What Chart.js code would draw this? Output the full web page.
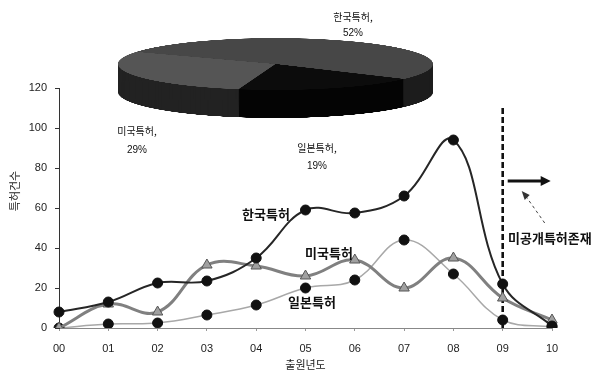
<!DOCTYPE html>
<html>
<head>
<meta charset="utf-8">
<script src="https://cdn.jsdelivr.net/npm/chart.js@4/dist/chart.umd.min.js"></script>
<style>
  html, body { margin: 0; padding: 0; background: #fff; }
  #wrap { position: relative; width: 598px; height: 374px; overflow: hidden; }
  #main { position: absolute; left: 0; top: 0; width: 598px; height: 374px; }
  /* square pie squashed vertically into a tilted disc */
  #pieBox { position: absolute; left: 118px; top: 38px; width: 315px; height: 485px;
            transform-origin: 0 0; transform: scaleY(0.16508); }
</style>
</head>
<body>
<div id="wrap">
  <div id="main"><canvas id="lineChart"></canvas></div>
  <div id="pieBox"><canvas id="pieChart"></canvas></div>
</div>
<script>
// 출원년도 (application year)
const years = ['00', '01', '02', '03', '04', '05', '06', '07', '08', '09', '10'];

// 특허건수 per year
const korea = [8, 13, 22.5, 23.5, 35, 59, 57.5, 66, 94, 22, 1];
const usa   = [0, 12, 8, 31.5, 31, 26, 34, 20, 35, 15, 4];
const japan = [0, 2, 2.5, 6.5, 11.5, 20, 24, 44, 27, 4, 0.5];

const seriesNames = ['한국특허', '미국특허', '일본특허'];

// share of total filings
const pieNames  = ['한국특허', '일본특허', '미국특허'];
const pieShares = [52, 19, 29];

const yMin = 0, yMax = 120, yStep = 20;
const unpublishedYear = '09';
const unpublishedNote = '미공개특허존재';

const tickFont = { family: 'Liberation Sans, Arial, sans-serif', size: 11 };
const krFont = 'Noto Sans CJK KR, sans-serif';

const notes = {
  id: 'notes',
  beforeDatasetsDraw(chart) {
    const { ctx, scales: { x, y } } = chart;
    const xi = x.getPixelForValue(years.indexOf(unpublishedYear));
    ctx.save();
    ctx.strokeStyle = '#111';
    ctx.lineWidth = 2.6;
    ctx.setLineDash([6, 3]);
    ctx.beginPath();
    ctx.moveTo(xi, y.getPixelForValue(110));
    ctx.lineTo(xi, y.getPixelForValue(0));
    ctx.stroke();
    ctx.restore();
  },
  afterDraw(chart) {
    const { ctx, scales: { x, y } } = chart;
    const xi = x.getPixelForValue(years.indexOf(unpublishedYear));
    ctx.save();
    // arrow pointing right from the cut-off line
    const ay = y.getPixelForValue(73.5);
    ctx.strokeStyle = '#111';
    ctx.fillStyle = '#111';
    ctx.lineWidth = 3;
    ctx.beginPath();
    ctx.moveTo(xi + 5, ay);
    ctx.lineTo(xi + 40, ay);
    ctx.stroke();
    ctx.beginPath();
    ctx.moveTo(xi + 48, ay);
    ctx.lineTo(xi + 38, ay - 5);
    ctx.lineTo(xi + 38, ay + 5);
    ctx.closePath();
    ctx.fill();
    // thin dashed pointer from the note to the arrow
    const px0 = xi + 42, py0 = y.getPixelForValue(52.5);
    const px1 = xi + 19, py1 = y.getPixelForValue(68.5);
    ctx.lineWidth = 1;
    ctx.setLineDash([3, 3]);
    ctx.strokeStyle = '#444';
    ctx.beginPath();
    ctx.moveTo(px0, py0);
    ctx.lineTo(px1 + 4, py1 + 5);
    ctx.stroke();
    ctx.setLineDash([]);
    ctx.fillStyle = '#333';
    ctx.beginPath();
    ctx.moveTo(px1, py1);
    ctx.lineTo(px1 + 8, py1 + 4);
    ctx.lineTo(px1 + 3, py1 + 9);
    ctx.closePath();
    ctx.fill();

    // series names next to their lines
    ctx.fillStyle = '#111';
    ctx.textBaseline = 'middle';
    ctx.textAlign = 'left';
    ctx.font = 'bold 13px ' + krFont;
    ctx.fillText(seriesNames[0], 242, 214);
    ctx.fillText(seriesNames[1], 305, 253);
    ctx.fillText(seriesNames[2], 288, 302);
    ctx.fillText(unpublishedNote, 508, 238);

    // pie slice labels
    ctx.textAlign = 'center';
    const pieText = [
      [pieNames[0], pieShares[0], 353, 17, 33],
      [pieNames[2], pieShares[2], 137, 131, 150],
      [pieNames[1], pieShares[1], 317, 148, 166]
    ];
    pieText.forEach(([n, v, cx, y1, y2]) => {
      ctx.font = '10px ' + krFont;
      ctx.fillText(n + ',', cx, y1);
      ctx.font = '10px Liberation Sans, Arial, sans-serif';
      ctx.fillText(v + '%', cx, y2);
    });

    // y axis title
    ctx.font = '11px ' + krFont;
    ctx.fillStyle = '#222';
    ctx.translate(15, 191);
    ctx.rotate(-Math.PI / 2);
    ctx.textAlign = 'center';
    ctx.fillText('특허건수', 0, 0);
    ctx.restore();
  }
};

new Chart(document.getElementById('lineChart'), {
  type: 'line',
  data: {
    labels: years,
    datasets: [
      {
        label: seriesNames[0], data: korea,
        borderColor: '#262626', borderWidth: 2, tension: 0.4,
        pointStyle: 'circle', pointRadius: 5, pointBackgroundColor: '#111',
        pointBorderColor: '#111', pointBorderWidth: 1
      },
      {
        label: seriesNames[1], data: usa,
        borderColor: '#808080', borderWidth: 3, tension: 0.4,
        pointStyle: 'triangle', pointRadius: 6, pointBackgroundColor: '#a0a0a0',
        pointBorderColor: '#555', pointBorderWidth: 1
      },
      {
        label: seriesNames[2], data: japan,
        borderColor: '#a8a8a8', borderWidth: 1.5, tension: 0.4,
        pointStyle: 'circle', pointRadius: 5, pointBackgroundColor: '#111',
        pointBorderColor: '#111', pointBorderWidth: 1
      }
    ]
  },
  options: {
    responsive: true,
    maintainAspectRatio: false,
    animation: false,
    layout: { padding: { top: 88, right: 46, left: 0, bottom: 0 } },
    plugins: { legend: { display: false }, tooltip: { enabled: false } },
    scales: {
      x: {
        offset: false,
        grid: { drawOnChartArea: false, drawTicks: true, tickLength: 3, color: '#999' },
        border: { color: '#888', width: 1 },
        ticks: { color: '#222', font: tickFont, padding: 11, maxRotation: 0 },
        title: { display: true, text: '출원년도', color: '#222',
                 font: { family: krFont, size: 11 }, padding: { top: 0, bottom: 3 } },
        afterFit(s) { s.height = 46; }
      },
      y: {
        min: yMin, max: yMax,
        grid: { drawOnChartArea: false, drawTicks: true, tickLength: 4, color: '#333' },
        border: { color: '#333', width: 1 },
        ticks: { stepSize: yStep, color: '#222', font: tickFont, padding: 8 },
        afterFit(s) { s.width = 59; }
      }
    }
  },
  plugins: [notes]
});

// side wall of the disc: the same slices repeated downward, darkened
const DEPTH = 170;
const discSide = {
  id: 'discSide',
  beforeDatasetsDraw(chart) {
    const { ctx } = chart;
    const meta = chart.getDatasetMeta(0);
    ctx.save();
    ctx.filter = 'brightness(0.4)';
    for (let d = DEPTH; d > 0; d -= 3) {
      ctx.save();
      ctx.translate(0, d);
      meta.data.forEach(a => a.draw(ctx));
      ctx.restore();
    }
    ctx.restore();
  }
};

new Chart(document.getElementById('pieChart'), {
  type: 'pie',
  data: {
    labels: pieNames,
    datasets: [{
      data: pieShares,
      backgroundColor: ['#474747', '#0c0c0c', '#555555'],
      borderWidth: 0
    }]
  },
  options: {
    responsive: true,
    maintainAspectRatio: false,
    animation: false,
    rotation: -62,
    layout: { padding: { top: 0, left: 0, right: 0, bottom: DEPTH } },
    plugins: { legend: { display: false }, tooltip: { enabled: false } }
  },
  plugins: [discSide]
});
</script>
</body>
</html>
